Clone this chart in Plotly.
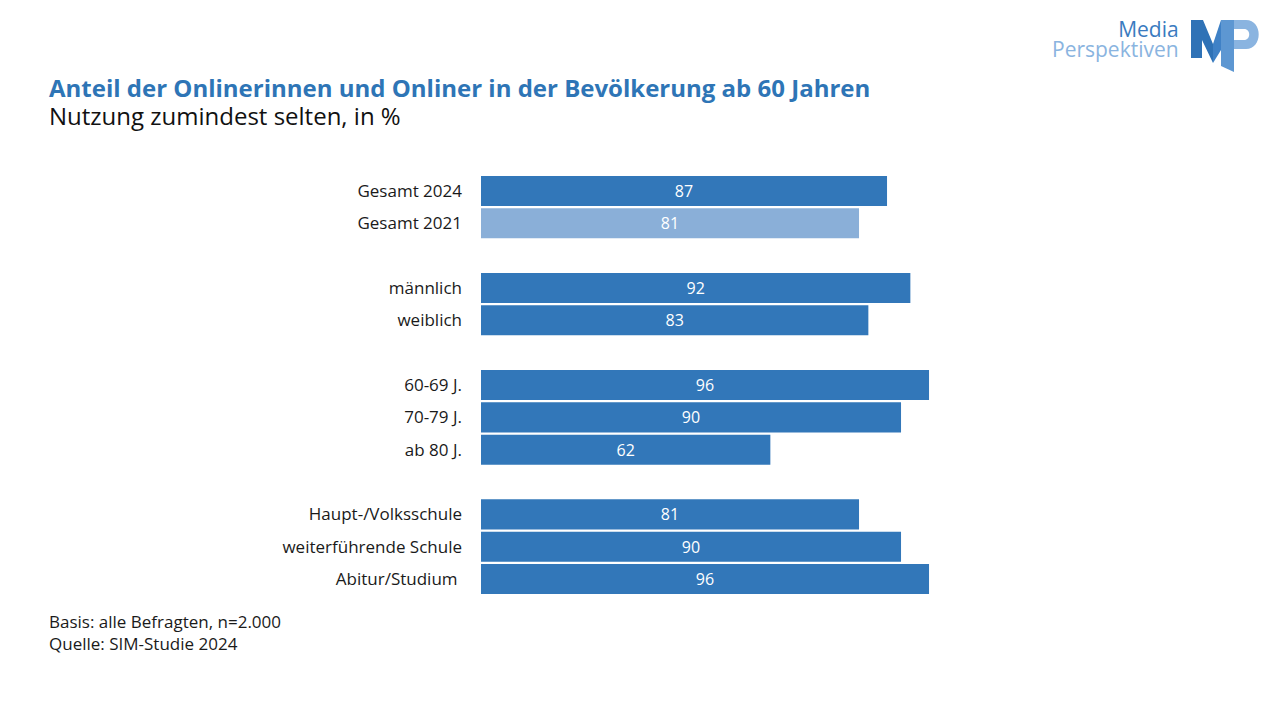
import plotly.graph_objects as go

# chart data
labels = ["Gesamt 2024", "Gesamt 2021",
          "männlich", "weiblich",
          "60-69 J.", "70-79 J.", "ab 80 J.",
          "Haupt-/Volksschule", "weiterführende Schule", "Abitur/Studium "]
values = [87, 81, 92, 83, 96, 90, 62, 81, 90, 96]
group_sizes = [2, 2, 3, 3]
highlight = "Gesamt 2021"

title = "Anteil der Onlinerinnen und Onliner in der Bevölkerung ab 60 Jahren"
subtitle = "Nutzung zumindest selten, in %"
notes = ["Basis: alle Befragten, n=2.000", "Quelle: SIM-Studie 2024"]

DARK = "#3277b9"
LIGHT = "#8aafd8"
FONT = "Open Sans"
W, H = 1280, 720

# row positions, one empty row between groups
pos = []
row = 0
for n in group_sizes:
    for i in range(n):
        pos.append(row)
        row += 1
    row += 1
last_row = pos[-1]

colors = [LIGHT if l == highlight else DARK for l in labels]


def px(x):
    return x / W


def py(y):
    return 1 - y / H


fig = go.Figure()
fig.add_trace(go.Bar(
    x=values, y=pos, orientation="h",
    marker=dict(color=colors, line=dict(width=0)),
    width=0.93,
    text=[str(v) for v in values], textposition="inside",
    insidetextanchor="middle", textangle=0,
    textfont=dict(family=FONT, size=16, color="white"),
    hoverinfo="skip",
))

top, bottom = 174.8, 595.2
fig.update_layout(
    width=W, height=H,
    margin=dict(l=0, r=0, t=0, b=0),
    paper_bgcolor="white", plot_bgcolor="white",
    showlegend=False,
    font=dict(family=FONT, color="#1a1a1a"),
    xaxis=dict(domain=[px(481), px(481 + 466.7)], range=[0, 100],
               visible=False, fixedrange=True),
    yaxis=dict(domain=[py(bottom), py(top)], range=[last_row + 0.5, -0.5],
               tickvals=pos, ticktext=labels, showgrid=False, zeroline=False,
               showline=False, ticks="", ticklabelstandoff=18, fixedrange=True,
               tickfont=dict(family=FONT, size=17, color="#1a1a1a")),
)

# title + subtitle in one block; line spacing follows the small base size
head = (f"<span style='font-size:24px;color:#2e75b6'><b>{title}</b></span><br>"
        f"<span style='font-size:24px;color:#111111'>{subtitle}</span>")
brand = ("<span style='font-size:21px;color:#3a7bc0'>Media</span><br>"
         "<span style='font-size:21px;color:#8ab4e0'>Perspektiven</span>")
ann = [
    dict(text=head, x=px(47), y=py(102), align="left",
         font=dict(size=21.5), xanchor="left"),
    dict(text=notes[0], x=px(47), y=py(621),
         font=dict(size=17, color="#1a1a1a"), xanchor="left"),
    dict(text=notes[1], x=px(47), y=py(643),
         font=dict(size=17, color="#1a1a1a"), xanchor="left"),
    dict(text=brand, x=px(1181), y=py(38.5), align="right",
         font=dict(size=15.5), xanchor="right"),
]
for a in ann:
    a.update(xref="paper", yref="paper", yanchor="middle", showarrow=False)
fig.update_layout(annotations=ann)


# logo shapes, pixel coordinates converted to paper
def path(cmds):
    s = ""
    for cmd, pts in cmds:
        s += cmd + " " + " ".join(f"{px(x):.5f},{py(y):.5f}" for x, y in pts) + " "
    return s + "Z"


def poly(pts):
    return path([("M", [pts[0]])] + [("L", [p]) for p in pts[1:]])


logo = [
    # M left part
    (poly([(1191, 20), (1203, 20), (1213, 44), (1213, 63),
           (1202, 40), (1202, 58), (1191, 58)]), "#2f72b6"),
    # M middle
    (poly([(1213, 44), (1221, 20), (1221, 50), (1213, 63)]), "#3f81c6"),
    # M right stem / P stem
    (poly([(1221, 20), (1234, 20), (1234, 72), (1221, 66)]), "#5d97d2"),
]
shapes = [dict(type="path", path=p, fillcolor=c, line=dict(width=0),
               xref="paper", yref="paper") for p, c in logo]
# P bowl
bowl = (path([("M", [(1234, 20)]), ("L", [(1246, 20)]),
               ("C", [(1263, 20), (1263, 49), (1246, 49)]), ("L", [(1234, 49)])])
        + " " +
        path([("M", [(1234, 29)]), ("L", [(1244, 29)]),
              ("C", [(1251, 29), (1251, 40), (1244, 40)]), ("L", [(1234, 40)])]))
shapes.append(dict(type="path", path=bowl, fillcolor="#8ab4e0", fillrule="evenodd",
                   line=dict(width=0), xref="paper", yref="paper"))
fig.update_layout(shapes=shapes)

# drop the browser's default body margin so the figure sits at 0,0
fig.write_html("out.html", config={"displayModeBar": False},
               post_script="document.body.style.margin='0';")
